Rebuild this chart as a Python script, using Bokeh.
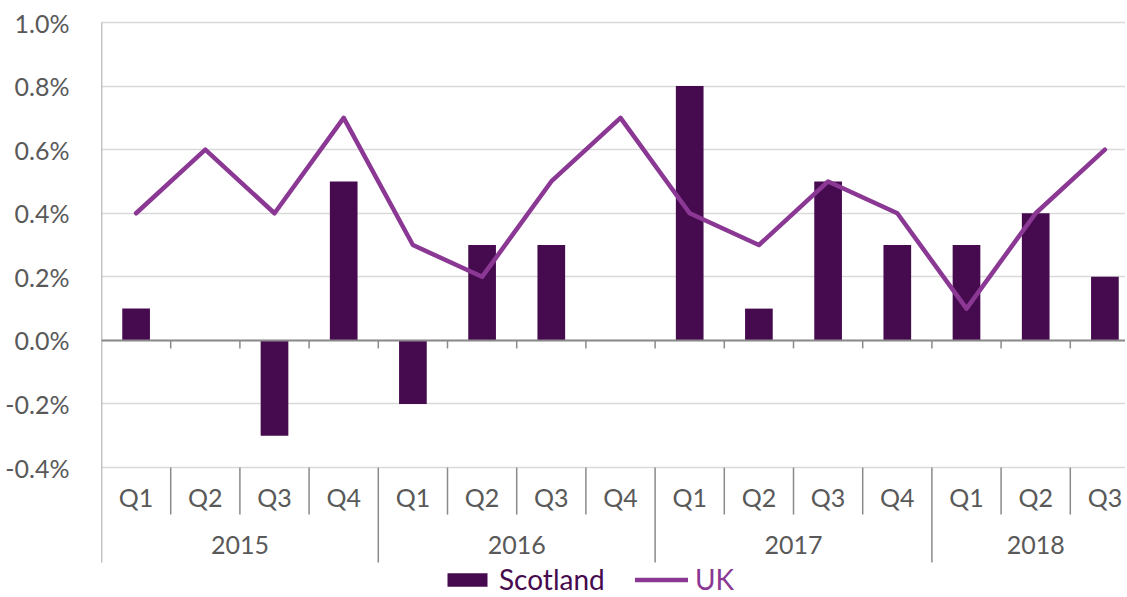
from bokeh.plotting import figure
from bokeh.models import Range1d, FixedTicker, PrintfTickFormatter, Legend, LegendItem, ColumnDataSource
from bokeh.core.properties import value
from bokeh.embed import file_html
from bokeh.resources import INLINE

# ---- data ----
years = ["2015"] * 4 + ["2016"] * 4 + ["2017"] * 4 + ["2018"] * 3
quarters = ["Q1", "Q2", "Q3", "Q4"] * 3 + ["Q1", "Q2", "Q3"]
scotland = [0.1, 0.0, -0.3, 0.5, -0.2, 0.3, 0.3, 0.0, 0.8, 0.1, 0.5, 0.3, 0.3, 0.4, 0.2]
uk = [0.4, 0.6, 0.4, 0.7, 0.3, 0.2, 0.5, 0.7, 0.4, 0.3, 0.5, 0.4, 0.1, 0.4, 0.6]
y_ticks = [-0.4, -0.2, 0.0, 0.2, 0.4, 0.6, 0.8, 1.0]

# ---- styles / layout ----
BAR = "#460A4E"
LINE = "#8B3894"
TEXT = "#595959"
AXIS = "#8A8A8A"
GRID = "#D9D9D9"
FONT = "Lato"
FS = "25px"

W, H = 1125, 596
LEFT = 101
CAT_PX = 69.2
PX_PER_UNIT = 317.9
TOP_PX = 22  # pixel position of the top tick inside the frame

y_top = max(y_ticks) + TOP_PX / PX_PER_UNIT
y_bot = max(y_ticks) - (H - TOP_PX) / PX_PER_UNIT
x_end = -0.5 + (W - LEFT) / CAT_PX

base = min(y_ticks)
q_tick_bot = base - 47.0 / PX_PER_UNIT
q_label_y = base - 29.5 / PX_PER_UNIT
year_label_y = base - 77.0 / PX_PER_UNIT
axis_bot = base - 95.0 / PX_PER_UNIT
zero_tick = -8.0 / PX_PER_UNIT

n = len(quarters)
xs = list(range(n))

p = figure(width=W, height=H, output_backend="svg", toolbar_location=None,
           x_range=Range1d(-0.5, x_end), y_range=Range1d(y_bot, y_top),
           x_axis_location=None, min_border_left=LEFT, min_border_right=0,
           min_border_top=0, min_border_bottom=0)
p.outline_line_color = None
p.background_fill_color = "white"
p.xgrid.visible = False
p.ygrid.ticker = FixedTicker(ticks=y_ticks)
p.ygrid.grid_line_color = GRID
p.ygrid.grid_line_width = 1.5

ya = p.yaxis[0]
ya.ticker = FixedTicker(ticks=y_ticks)
ya.formatter = PrintfTickFormatter(format="%.1f%%")
ya.axis_line_color = None
ya.major_tick_line_color = None
ya.minor_tick_line_color = None
ya.major_label_text_font = FONT
ya.major_label_text_font_size = FS
ya.major_label_text_color = TEXT
ya.major_label_standoff = 26

src = ColumnDataSource(dict(x=xs, scotland=scotland, uk=uk, q=quarters))

bars = p.vbar(x="x", top="scotland", bottom=0, width=0.4, source=src,
              fill_color=BAR, line_color=None)

# horizontal axis line at zero with boundary ticks
bnd = [i + 0.5 for i in range(n - 1)]
p.segment(x0=[-0.5], y0=[0], x1=[x_end], y1=[0], line_color=AXIS, line_width=2)
p.segment(x0=bnd, y0=[0] * len(bnd), x1=bnd, y1=[zero_tick] * len(bnd),
          line_color=AXIS, line_width=1.5)

ln = p.line(x="x", y="uk", source=src, line_color=LINE, line_width=4.5,
            line_join="round", line_cap="round")

# category axis (drawn by hand)
p.segment(x0=[-0.5], y0=[axis_bot], x1=[-0.5], y1=[max(y_ticks)],
          line_color=AXIS, line_width=1.5)
short_x, long_x = [], []
for i in range(n - 1):
    (short_x if years[i] == years[i + 1] else long_x).append(i + 0.5)
p.segment(x0=short_x, y0=[base] * len(short_x), x1=short_x, y1=[q_tick_bot] * len(short_x),
          line_color=AXIS, line_width=1.5)
p.segment(x0=long_x, y0=[base] * len(long_x), x1=long_x, y1=[axis_bot] * len(long_x),
          line_color=AXIS, line_width=1.5)

p.text(x="x", y=q_label_y, text="q", source=src, text_font=value(FONT),
       text_font_size=value(FS), text_color=TEXT, text_align="center",
       text_baseline="middle")

groups = []
for i, yv in enumerate(years):
    if not groups or groups[-1][0] != yv:
        groups.append([yv, i, i])
    else:
        groups[-1][2] = i
p.text(x=[(g[1] + g[2]) / 2 for g in groups], y=[year_label_y] * len(groups),
       text=[g[0] for g in groups], text_font=value(FONT), text_font_size=value(FS),
       text_color=TEXT, text_align="center", text_baseline="middle")

def mk_legend(item, loc, color, gw):
    lg = Legend(items=[item], location=loc, orientation="horizontal",
                glyph_width=gw, glyph_height=17, label_standoff=7, padding=0,
                margin=0, spacing=0, border_line_color=None, background_fill_alpha=0,
                label_text_font=FONT, label_text_font_size="28px", label_text_color=color)
    p.add_layout(lg)

mk_legend(LegendItem(label="Scotland", renderers=[bars]), (341, 0), BAR, 50)
mk_legend(LegendItem(label="UK", renderers=[ln]), (534, 0), LINE, 53)

open("out.html", "w").write(file_html(p, INLINE))
